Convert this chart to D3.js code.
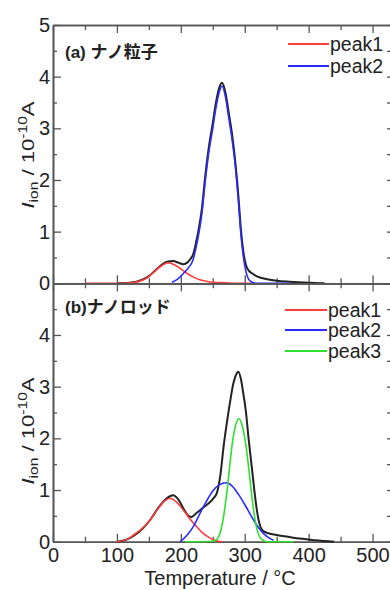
<!DOCTYPE html>
<html><head><meta charset="utf-8">
<script src="https://cdn.jsdelivr.net/npm/d3@7"></script>
<style>body{margin:0;background:#fff}svg{display:block}</style>
</head><body>
<svg id="c" width="390" height="590"></svg>
<script>
// ---------- data (temperature °C, ion current 1e-10 A) ----------
// Panel (a) ナノ粒子
const tempA_total = [100,120,140,150,160,170,180,188,196,204,210,215,219,224,228,233,238,244,250,255,260,264.5,270,275,280,285,290,294,298,302,306,312,320,335,350,370,400,425];
const valA_total  = [0,0.01,0.07,0.14,0.25,0.36,0.42,0.43,0.40,0.37,0.40,0.47,0.55,0.80,1.05,1.45,2.05,2.65,3.10,3.50,3.78,3.88,3.68,3.30,2.90,2.38,1.70,1.05,0.60,0.35,0.25,0.19,0.13,0.08,0.05,0.03,0.01,0];
const tempA_peak1 = [50,100,120,140,150,160,170,180,190,200,210,220,230,240,250,270,290,310];
const valA_peak1  = [0,0,0.01,0.06,0.13,0.24,0.34,0.40,0.36,0.28,0.19,0.12,0.07,0.04,0.02,0.01,0,0];
const tempA_peak2 = [186,195,204,212,219,224,228,233,238,244,250,255,260,264.5,270,275,280,285,290,294,298,302,306,312,318,371];
const valA_peak2  = [0.02,0.08,0.19,0.30,0.45,0.70,0.95,1.35,1.95,2.55,3.00,3.40,3.70,3.82,3.60,3.20,2.80,2.30,1.60,0.95,0.50,0.22,0.08,0.02,0,0];

// Panel (b) ナノロッド
const tempB_total = [100,115,126,140,152,165,178,188,196,205,212,217,225,235,245,251,256,262,267,272,277,282,286,290,294,298,302,306,311,315,319,323,327,335,350,370,386,410,440];
const valB_total  = [0,0.04,0.11,0.25,0.42,0.66,0.84,0.90,0.82,0.62,0.50,0.48,0.56,0.66,0.76,0.84,0.93,1.30,1.85,2.30,2.70,3.05,3.22,3.29,3.15,2.85,2.50,2.00,1.45,1.00,0.61,0.35,0.23,0.17,0.13,0.09,0.06,0.03,0];
const tempB_peak1 = [100,115,126,140,152,165,175,183,192,204,215,225,235,246,255,265];
const valB_peak1  = [0,0.04,0.13,0.26,0.42,0.65,0.79,0.84,0.78,0.61,0.43,0.29,0.16,0.07,0.02,0];
const tempB_peak2 = [199,210,220,230,240,250,260,271,280,290,300,310,320,330,340,345];
const valB_peak2  = [0,0.13,0.30,0.55,0.78,0.98,1.10,1.14,1.08,0.92,0.72,0.50,0.30,0.15,0.06,0.03];
const tempB_peak3 = [207,250,256,261,266,271,276,280,285,291,297,302,306,310,314,318,323,328,335,376];
const valB_peak3  = [0,0.01,0.04,0.15,0.42,0.85,1.40,1.85,2.22,2.38,2.20,1.85,1.45,1.00,0.60,0.30,0.10,0.03,0,0];

const xMajorTicks = [0,100,200,300,400,500];
const xMinorTicks = [50,150,250,350,450];
const yTicksA = [0,1,2,3,4,5];
const yTicksB = [0,1,2,3,4];
const yMinorTicks = [0.5,1.5,2.5,3.5,4.5];
const legendA = ["peak1","peak2"];
const legendB = ["peak1","peak2","peak3"];

// ---------- layout ----------
const svg = d3.select("#c");
const FONT = "'Liberation Sans', Arial, sans-serif";
const CJK = "'Liberation Sans', 'Noto Sans CJK JP', sans-serif";
const L = 53, R = 393;
const x = d3.scaleLinear().domain([0,532]).range([L,R]);
const yA = d3.scaleLinear().domain([0,5]).range([283.3,25]);
const yB = d3.scaleLinear().domain([0,5]).range([541.7,283.3]);
const AX = "#555";
const COL = {peak1:"#ff3c3c", peak2:"#2b2bff", peak3:"#30e030", total:"#222"};

function styleAxis(g){
  g.select(".domain").attr("stroke",AX).attr("stroke-width",1.6);
  g.selectAll(".tick line").attr("stroke",AX).attr("stroke-width",1.3);
  g.selectAll(".tick text").attr("fill","#222").style("font-family",FONT).style("font-size","20px");
}

function panel(y, yTicks, showX){
  const [y0] = y.range(); const y1 = y.range()[1];
  // left
  svg.append("g").attr("transform",`translate(${L},0)`)
    .call(d3.axisLeft(y).tickValues(yMinorTicks).tickSize(-4).tickSizeOuter(0).tickFormat("")).call(styleAxis);
  svg.append("g").attr("transform",`translate(${L},0)`)
    .call(d3.axisLeft(y).tickValues(yTicks).tickSize(-8).tickSizeOuter(0).tickPadding(3).tickFormat(d3.format("d"))).call(styleAxis);
  // right
  svg.append("g").attr("transform",`translate(${R},0)`)
    .call(d3.axisRight(y).tickValues(yMinorTicks.concat(yTicksA)).tickSize(-6).tickSizeOuter(0).tickFormat("")).call(styleAxis);
  // top
  svg.append("g").attr("transform",`translate(0,${y1})`)
    .call(d3.axisTop(x).tickValues(xMinorTicks).tickSize(-5).tickSizeOuter(0).tickFormat("")).call(styleAxis);
  svg.append("g").attr("transform",`translate(0,${y1})`)
    .call(d3.axisTop(x).tickValues(xMajorTicks).tickSize(-8).tickSizeOuter(0).tickFormat("")).call(styleAxis);
  // bottom
  svg.append("g").attr("transform",`translate(0,${y0})`)
    .call(d3.axisBottom(x).tickValues(xMinorTicks).tickSize(-5).tickSizeOuter(0).tickFormat("")).call(styleAxis);
  svg.append("g").attr("transform",`translate(0,${y0})`)
    .call(d3.axisBottom(x).tickValues(xMajorTicks).tickSize(-8).tickSizeOuter(0).tickPadding(6)
      .tickFormat(showX ? d3.format("d") : "")).call(styleAxis);
}

function curve(y, temps, vals, color, w){
  const line = d3.line().x(d=>x(d[0])).y(d=>y(d[1])).curve(d3.curveMonotoneX);
  svg.append("path").datum(d3.zip(temps, vals)).attr("d", line)
    .attr("fill","none").attr("stroke",color).attr("stroke-width",w).attr("stroke-linejoin","round");
}

function legend(items, x1, x2, ys){
  items.forEach((name,i)=>{
    svg.append("line").attr("x1",x1).attr("x2",x2).attr("y1",ys[i]).attr("y2",ys[i])
      .attr("stroke",COL[name]).attr("stroke-width",1.8);
    svg.append("text").attr("x",x2+1).attr("y",ys[i]+7).text(name)
      .style("font-family",FONT).style("font-size","19.5px").attr("fill","#222");
  });
}

function yTitle(cx, cy){
  const t = svg.append("text").attr("transform",`translate(${cx},${cy}) rotate(-90) scale(1.3,1)`)
    .attr("text-anchor","middle").style("font-family",FONT).style("font-size","17px").attr("fill","#222");
  t.append("tspan").style("font-style","italic").text("I");
  t.append("tspan").attr("dy",4).style("font-size","12px").text("ion");
  t.append("tspan").attr("dy",-4).text(" / 10");
  t.append("tspan").attr("dy",-7).style("font-size","12px").text("-10");
  t.append("tspan").attr("dy",7).text("A");
}

// ---------- panel (a) ----------
panel(yA, yTicksA, false);
curve(yA, tempA_total, valA_total, COL.total, 2);
curve(yA, tempA_peak1, valA_peak1, COL.peak1, 1.6);
curve(yA, tempA_peak2, valA_peak2, COL.peak2, 1.6);
legend(legendA, 288, 329, [44,66]);
svg.append("text").attr("x",65).attr("y",58).text("(a) ナノ粒子")
  .style("font-family",CJK).style("font-size","17px").style("font-weight","bold").attr("fill","#222");
yTitle(34, 155);

// ---------- panel (b) ----------
panel(yB, yTicksB, true);
curve(yB, tempB_total, valB_total, COL.total, 2);
curve(yB, tempB_peak1, valB_peak1, COL.peak1, 1.6);
curve(yB, tempB_peak2, valB_peak2, COL.peak2, 1.6);
curve(yB, tempB_peak3, valB_peak3, COL.peak3, 1.6);
legend(legendB, 285, 327, [310,330,351]);
svg.append("text").attr("x",65).attr("y",313).text("(b)ナノロッド")
  .style("font-family",CJK).style("font-size","17px").style("font-weight","bold").attr("fill","#222");
yTitle(34, 431);

svg.append("text").attr("x",220).attr("y",585).attr("text-anchor","middle").text("Temperature / °C")
  .style("font-family",FONT).style("font-size","20px").attr("fill","#222");
</script>
</body></html>
